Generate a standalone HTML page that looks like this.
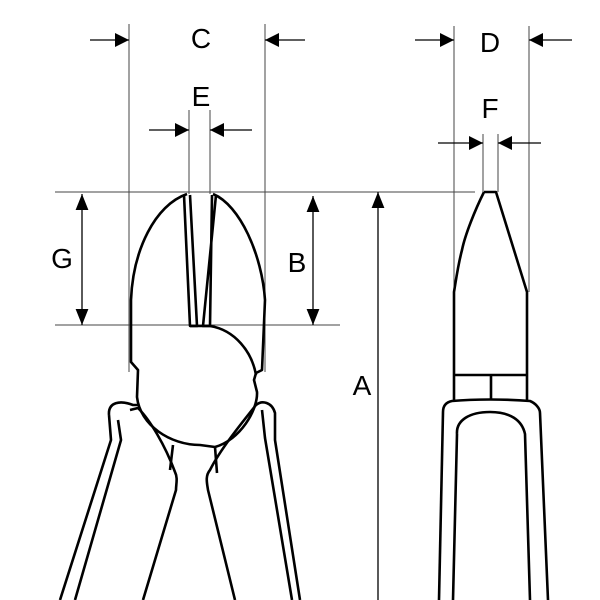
<!DOCTYPE html>
<html><head><style>html,body{margin:0;padding:0;background:#fff}svg{display:block}</style></head>
<body>
<svg width="600" height="600" viewBox="0 0 600 600" xmlns="http://www.w3.org/2000/svg">
<defs>
<marker id="ah" viewBox="0 0 10 10" refX="10" refY="5" markerWidth="14" markerHeight="14" markerUnits="userSpaceOnUse" orient="auto"><path d="M0,0 L10,5 L0,10 z" fill="#000"/></marker>
<marker id="ahv" viewBox="0 0 10 10" refX="10" refY="5" markerWidth="16" markerHeight="16" markerUnits="userSpaceOnUse" orient="auto"><path d="M0,1 L10,5 L0,9 z" fill="#000"/></marker>
</defs>
<g stroke="#444" stroke-width="1" fill="none">
<line x1="129" y1="24" x2="129" y2="372"/>
<line x1="265" y1="24" x2="265" y2="372"/>
<line x1="189" y1="110" x2="189" y2="194"/>
<line x1="210" y1="110" x2="210" y2="194"/>
<line x1="454" y1="26" x2="454" y2="292"/>
<line x1="529" y1="26" x2="529" y2="292"/>
<line x1="483" y1="134" x2="483" y2="192"/>
<line x1="498" y1="134" x2="498" y2="192"/>
<line x1="55" y1="192" x2="475" y2="192"/>
<line x1="55" y1="325" x2="340" y2="325"/>
</g>
<g stroke="#000" stroke-width="1.3" fill="none">
<line x1="90" y1="40" x2="129" y2="40" marker-end="url(#ah)"/>
<line x1="305" y1="40" x2="265" y2="40" marker-end="url(#ah)"/>
<line x1="149" y1="130" x2="189" y2="130" marker-end="url(#ah)"/>
<line x1="252" y1="130" x2="210" y2="130" marker-end="url(#ah)"/>
<line x1="415" y1="40" x2="454" y2="40" marker-end="url(#ah)"/>
<line x1="572" y1="40" x2="529" y2="40" marker-end="url(#ah)"/>
<line x1="438" y1="143" x2="483" y2="143" marker-end="url(#ah)"/>
<line x1="541" y1="143" x2="498" y2="143" marker-end="url(#ah)"/>
<line x1="82" y1="258" x2="82" y2="194" marker-end="url(#ahv)"/>
<line x1="82" y1="258" x2="82" y2="325" marker-end="url(#ahv)"/>
<line x1="313" y1="262" x2="313" y2="196" marker-end="url(#ahv)"/>
<line x1="313" y1="262" x2="313" y2="325" marker-end="url(#ahv)"/>
<line x1="378" y1="600" x2="378" y2="192" marker-end="url(#ahv)"/>
</g>
<g font-family="Liberation Sans, sans-serif" font-size="28" fill="#000" text-anchor="middle">
<text x="201" y="48">C</text>
<text x="490" y="52">D</text>
<text x="201" y="106">E</text>
<text x="490" y="118">F</text>
<text x="62" y="268">G</text>
<text x="297" y="272">B</text>
<text x="362" y="395">A</text>
</g>
<g stroke="#000" stroke-width="2.6" fill="none" stroke-linejoin="round">
<!-- head outer -->
<path d="M187,194 C155,205 133,250 131,300 L131,362 L138,370 L137,397 C140,425 170,445 200,445 L215,447 C240,440 258,410 257,392 L254,380 L256,373 L262,370 L265,300 C262,255 240,205 213,194"/>
<!-- blades -->
<path d="M184,195 L190,326 L197,326 L190,195"/>
<path d="M212,195 L210,326 L203,326 L216,195"/>
<path d="M190,326 L210,326 C235,330 252,352 256,375"/>
<!-- pivot lower -->
<path d="M173,445 L170,470 M215,447 L217,473"/>
<!-- left handle -->
<path d="M109,415 C108,402 120,400 133,405 L139,405 M130,410 L138,408 C150,420 165,445 175,472 C178,478 176,484 176,490 L143,600"/>
<path d="M109,415 L111,440 L60,600"/>
<path d="M118,420 L121,440 L75,600"/>
<!-- right handle -->
<path d="M256,405 C262,400 272,402 275,413 L275,440 L300,600"/>
<path d="M262,410 L265,438 L292,600 M256,405 C240,425 220,450 210,470 C205,476 207,483 208,490 L235,600"/>
<!-- side view -->
<path d="M484,192 L496,192 L527,292 L527,400 M484,192 C475,210 465,235 462,250 C458,265 456,280 454,292 L454,400"/>
<path d="M454,375 L527,375 M491,375 L491,400"/>
<path d="M443,412 C443,405 447,402 452,401 C475,399 505,399 530,401 C535,403 540,408 540,413 L548,600"/>
<path d="M443,412 L439,600"/>
<path d="M457,434 C456,420 470,412 490,412 C510,412 522,420 525,434 L530,600 M457,434 L453,600"/>
</g>
</svg>
</body></html>
